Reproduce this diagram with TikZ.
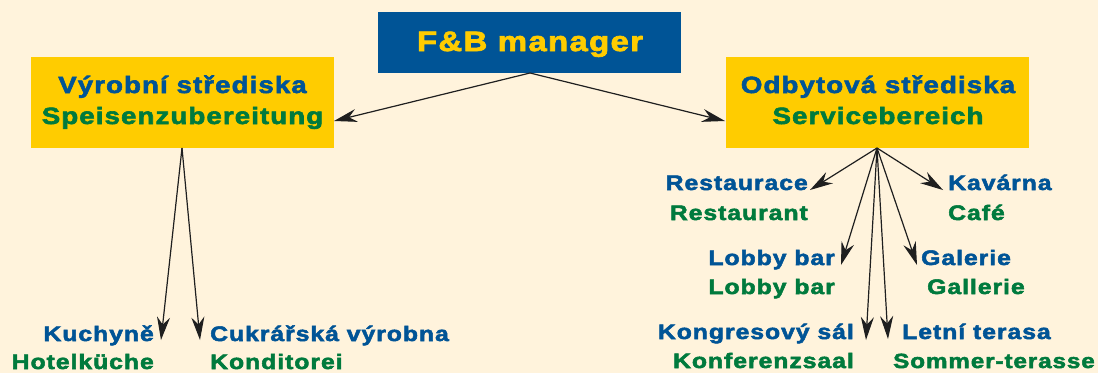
\documentclass[tikz,border=0pt]{standalone}
\usepackage{fontspec}
\usetikzlibrary{arrows.meta}
\newfontfamily\labfont{Liberation Sans}[UprightFont=* Bold, FakeStretch=1.18, LetterSpace=4.5, FakeBold=2.5]
\definecolor{fbblue}{RGB}{0,84,150}
\definecolor{fbgreen}{RGB}{0,122,61}
\definecolor{fbyellow}{RGB}{255,204,0}
\definecolor{fbbg}{RGB}{255,243,220}
\tikzset{
  box/.style={fill=fbyellow, draw=none, minimum width=303pt, minimum height=91pt, inner sep=0pt},
  topbox/.style={fill=fbblue, draw=none, minimum width=303pt, minimum height=61pt, inner sep=0pt},
  bl/.style={text=fbblue, font=\labfont\fontsize{21}{21}\selectfont, inner sep=0pt},
  gr/.style={text=fbgreen, font=\labfont\fontsize{21}{21}\selectfont, inner sep=0pt},
  bbl/.style={text=fbblue, font=\labfont\fontsize{23.5}{23.5}\selectfont, inner sep=0pt, anchor=base},
  bgr/.style={text=fbgreen, font=\labfont\fontsize{23.5}{23.5}\selectfont, inner sep=0pt, anchor=base},
  arr/.style={draw=black!88, line width=1.2pt, -{Stealth[length=23pt,width=13pt,inset=7.5pt]}}
}
\begin{document}
\begin{tikzpicture}[x=1pt,y=-1pt]
\fill[fbbg] (0,0) rectangle (1098,373);
\useasboundingbox (0,0) rectangle (1098,373);
% boxes
\node[topbox] (top) at (529.5,42.5) {};
\node[anchor=base, text=fbyellow, font=\labfont\fontsize{28}{28}\selectfont, inner sep=0pt] (toptext) at (530,51) {F\&B manager};
\node[box] (left) at (182.5,102.5) {};
\node[bbl] (l1) at (182.5,93) {Výrobní střediska};
\node[bgr] (l2) at (182.5,124) {Speisenzubereitung};
\node[box] (right) at (877.5,102.5) {};
\node[bbl] (r1) at (878,93) {Odbytová střediska};
\node[bgr] (r2) at (878,124) {Servicebereich};
% source points
\coordinate (topS) at (530,73);
\coordinate (leftS) at (182,148);
\coordinate (rightS) at (877,148);
% tips
\coordinate (tL) at (334,121);
\coordinate (tR) at (725,121);
\coordinate (tKu) at (161,340);
\coordinate (tCu) at (200,340);
\coordinate (tRe) at (810,190);
\coordinate (tKa) at (943,190);
\coordinate (tLo) at (841,265);
\coordinate (tGa) at (917,265);
\coordinate (tKo) at (866,340);
\coordinate (tLe) at (888,339);
% labels
\node[bl, anchor=base east] (ku1) at (154,341) {Kuchyně};
\node[gr, anchor=base east] (ku2) at (154,369) {Hotelküche};
\node[bl, anchor=base west] (cu1) at (210,341) {Cukrářská výrobna};
\node[gr, anchor=base west] (cu2) at (210,369) {Konditorei};
\node[bl, anchor=base east] (re1) at (808,190) {Restaurace};
\node[gr, anchor=base east] (re2) at (808,220) {Restaurant};
\node[bl, anchor=base west] (ka1) at (948,190) {Kavárna};
\node[gr, anchor=base west] (ka2) at (948,220) {Café};
\node[bl, anchor=base east] (lo1) at (835,265) {Lobby bar};
\node[gr, anchor=base east] (lo2) at (835,294) {Lobby bar};
\node[bl, anchor=base west] (ga1) at (921,265) {Galerie};
\node[gr, anchor=base west] (ga2) at (927,294) {Gallerie};
\node[bl, anchor=base east] (ko1) at (854,339) {Kongresový sál};
\node[gr, anchor=base east] (ko2) at (854,368) {Konferenzsaal};
\node[bl, anchor=base west] (le1) at (902,339) {Letní terasa};
\node[gr, anchor=base east, font=\labfont\fontsize{20.5}{20.5}\selectfont] (le2) at (1095,368) {Sommer-terasse};
% arrows
\draw[arr] (topS) -- (tL);
\draw[arr] (topS) -- (tR);
\draw[arr] (leftS) -- (tKu);
\draw[arr] (leftS) -- (tCu);
\draw[arr] (rightS) -- (tRe);
\draw[arr] (rightS) -- (tKa);
\draw[arr] (rightS) -- (tLo);
\draw[arr] (rightS) -- (tGa);
\draw[arr] (rightS) -- (tKo);
\draw[arr] (rightS) -- (tLe);
\end{tikzpicture}
\end{document}
